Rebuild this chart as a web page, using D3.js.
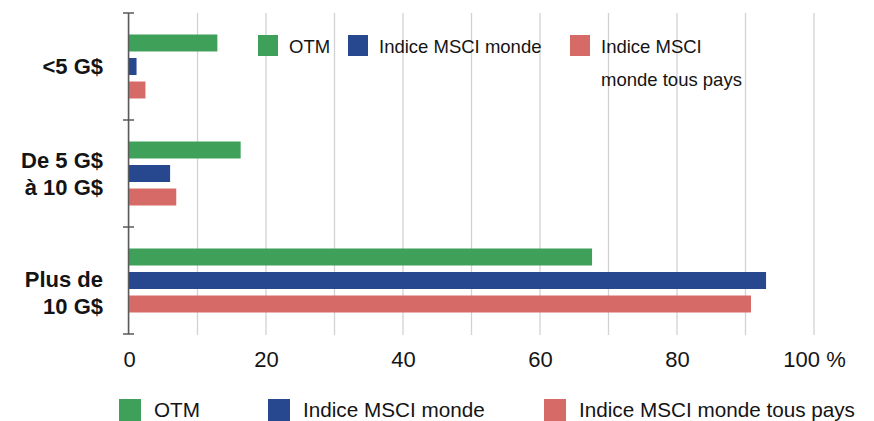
<!DOCTYPE html>
<html>
<head>
    <script src="https://cdnjs.cloudflare.com/ajax/libs/d3/7.8.5/d3.min.js"></script>
    <style>
        body { margin: 0; background: #fff; font-family: "Liberation Sans", Arial, sans-serif; }
        svg text { fill: #141414; }
    </style>
</head>
<body>
    <div id="chart"></div>
    <script>
        // data
        var categories = [["<5 G$"], ["De 5 G$", "à 10 G$"], ["Plus de", "10 G$"]];
        var seriesNames = ["OTM", "Indice MSCI monde", "Indice MSCI monde tous pays"];
        var otm = [12.9, 16.3, 67.6];
        var msciWorld = [1.1, 6.0, 93.0];
        var msciAcwi = [2.4, 6.9, 90.8];
        var tickValues = [0, 20, 40, 60, 80, 100];
        var gridValues = [0, 10, 20, 30, 40, 50, 60, 70, 80, 90, 100];
        var colors = ["#3fa05a", "#27488f", "#d66a66"];

        var width = 874, height = 421;
        var svg = d3.select("#chart").append("svg")
            .attr("width", width).attr("height", height);

        var x = d3.scaleLinear().domain([0, 100]).range([129, 814]);
        var y = d3.scaleBand().domain(d3.range(categories.length)).range([13, 334]).padding(0);
        var inner = d3.scaleBand().domain(d3.range(3)).range([-32, 32]).paddingInner(0.277);

        // gridlines
        svg.append("g").selectAll("line").data(gridValues).join("line")
            .attr("x1", d => x(d)).attr("x2", d => x(d))
            .attr("y1", 13).attr("y2", 335)
            .attr("stroke", "#d2d2d2").attr("stroke-width", 1.3);

        // bars
        var series = [otm, msciWorld, msciAcwi];
        series.forEach(function (vals, s) {
            svg.append("g").selectAll("rect").data(vals).join("rect")
                .attr("x", x(0))
                .attr("y", (d, i) => y(i) + y.bandwidth() / 2 + inner(s))
                .attr("width", d => x(d) - x(0))
                .attr("height", inner.bandwidth())
                .attr("fill", colors[s]);
        });

        // y axis line with ticks at band edges
        var edges = d3.range(categories.length).map(i => y(i)).concat([y.range()[1]]);
        svg.append("line").attr("x1", 128.5).attr("x2", 128.5)
            .attr("y1", edges[0]).attr("y2", edges[edges.length - 1])
            .attr("stroke", "#5a5a5a").attr("stroke-width", 1.5);
        svg.append("g").selectAll("line").data(edges).join("line")
            .attr("x1", 123).attr("x2", 134)
            .attr("y1", d => d).attr("y2", d => d)
            .attr("stroke", "#5a5a5a").attr("stroke-width", 1.5);

        // category labels
        var labels = svg.append("g").selectAll("text").data(categories).join("text")
            .attr("text-anchor", "end")
            .attr("font-size", 22).attr("font-weight", "bold");
        labels.each(function (lines, i) {
            var nudge = i === 2 ? 12 : 0;
            var cy = y(i) + y.bandwidth() / 2 + nudge;
            var first = cy - (lines.length - 1) * 13.5 + 7.5;
            d3.select(this).selectAll("tspan").data(lines).join("tspan")
                .attr("x", 103).attr("y", (d, k) => first + k * 27)
                .text(d => d);
        });

        // x axis labels
        var xAxis = svg.append("g").attr("transform", "translate(0,335)")
            .call(d3.axisBottom(x).tickValues(tickValues).tickSize(0)
                .tickFormat(d => d === 100 ? "100 %" : d));
        xAxis.select(".domain").remove();
        xAxis.selectAll("text").attr("y", 32).attr("dy", 0)
            .attr("font-size", 22).attr("font-family", "Liberation Sans, Arial, sans-serif")
            .attr("fill", "#141414");

        // top legend
        var topLeg = [
            { x: 258, lines: ["OTM"] },
            { x: 348, lines: ["Indice MSCI monde"] },
            { x: 570, lines: ["Indice MSCI", "monde tous pays"] }
        ];
        topLeg.forEach(function (l, i) {
            svg.append("rect").attr("x", l.x).attr("y", 35).attr("width", 20).attr("height", 21)
                .attr("fill", colors[i]);
            svg.append("text").attr("font-size", 18.5)
                .selectAll("tspan").data(l.lines).join("tspan")
                .attr("x", l.x + 31).attr("y", (d, k) => 53 + k * 33)
                .text(d => d);
        });

        // bottom legend
        var botX = [119, 268, 544];
        seriesNames.forEach(function (name, i) {
            svg.append("rect").attr("x", botX[i]).attr("y", 399).attr("width", 22).attr("height", 22)
                .attr("fill", colors[i]);
            svg.append("text").attr("x", botX[i] + 35).attr("y", 417)
                .attr("font-size", 20.7).text(name);
        });
    </script>
</body>
</html>
